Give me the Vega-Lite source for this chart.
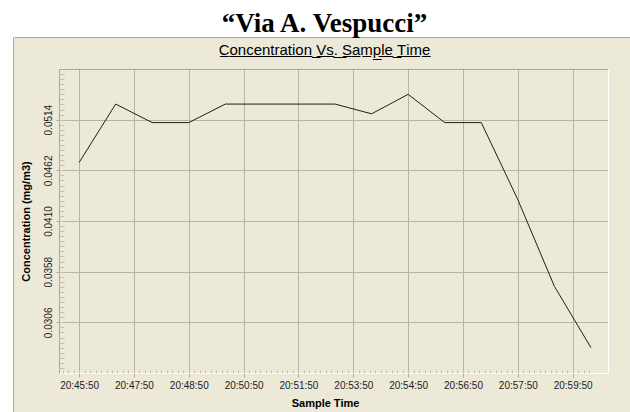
{
  "$schema": "https://vega.github.io/schema/vega-lite/v6.json",
  "background": "#ECE9D8",
  "padding": 0,
  "spacing": 0,
  "config": {"view": {"stroke": null}},
  "hconcat": [
    {
      "spacing": 0,
      "vconcat": [
        {"width": 14, "height": 37, "data": {"values": []}, "mark": "rect", "encoding": {}, "view": {"fill": "white", "stroke": null}},
        {"width": 13, "height": 375, "data": {"values": []}, "mark": "rect",
         "encoding": {"y": {"field": "v", "type": "quantitative", "scale": {"domain": [0, 1]},
           "axis": {"orient": "right", "domainColor": "#ACA899", "ticks": false, "labels": false, "grid": false, "title": null}}},
         "view": {"fill": "white", "stroke": null}}
      ]
    },
    {
      "spacing": 6,
      "vconcat": [
        {
          "width": 617, "height": 37,
          "data": {"values": []},
          "mark": "rect",
          "encoding": {"x": {"field": "v", "type": "quantitative", "scale": {"domain": [0, 1]},
            "axis": {"orient": "bottom", "domainColor": "#ACA899", "ticks": false, "labels": false, "grid": false,
              "title": "\u201cVia A. Vespucci\u201d", "titleFont": "Liberation Serif", "titleFontSize": 27, "titleFontWeight": "bold", "titleColor": "#000000",
              "titleX": 310, "titleY": -6, "titleAlign": "center", "titleBaseline": "alphabetic", "titleAnchor": null}}},
          "view": {"fill": "white", "stroke": null}
        },
        {
          "spacing": 0,
          "hconcat": [
            {"width": 5, "height": 10, "data": {"values": []}, "mark": "rect", "encoding": {}},
            {
              "width": 549,
              "height": 304,
              "data": {"values": [
                {"time": "2000-01-01T20:45:50Z", "conc": 0.0470},
                {"time": "2000-01-01T20:46:50Z", "conc": 0.0530},
                {"time": "2000-01-01T20:47:50Z", "conc": 0.0511},
                {"time": "2000-01-01T20:48:50Z", "conc": 0.0511},
                {"time": "2000-01-01T20:49:50Z", "conc": 0.0530},
                {"time": "2000-01-01T20:50:50Z", "conc": 0.0530},
                {"time": "2000-01-01T20:51:50Z", "conc": 0.0530},
                {"time": "2000-01-01T20:52:50Z", "conc": 0.0530},
                {"time": "2000-01-01T20:53:50Z", "conc": 0.0520},
                {"time": "2000-01-01T20:54:50Z", "conc": 0.0540},
                {"time": "2000-01-01T20:55:50Z", "conc": 0.0511},
                {"time": "2000-01-01T20:56:50Z", "conc": 0.0511},
                {"time": "2000-01-01T20:57:50Z", "conc": 0.0432},
                {"time": "2000-01-01T20:58:50Z", "conc": 0.0343},
                {"time": "2000-01-01T20:59:50Z", "conc": 0.0280}
              ]},
              "title": {"text": "C\u0332o\u0332n\u0332c\u0332e\u0332n\u0332t\u0332r\u0332a\u0332t\u0332i\u0332o\u0332n\u0332 \u0332V\u0332s\u0332.\u0332 \u0332S\u0332a\u0332m\u0332p\u0332l\u0332e\u0332 \u0332T\u0332i\u0332m\u0332e\u0332", "font": "Liberation Sans", "fontSize": 15, "fontWeight": "normal", "color": "#000000", "anchor": "middle", "frame": "group", "offset": 11, "dx": -9},
              "layer": [
                {
                  "mark": {"type": "line", "color": "#1E1E1E", "strokeWidth": 1},
                  "encoding": {
                    "x": {"field": "time", "type": "temporal",
                      "scale": {"type": "utc", "domain": [946759517000, 946760418000]},
                      "axis": {"orient": "bottom",
                        "values": [946759550000, 946759640000, 946759730000, 946759820000, 946759910000, 946760000000, 946760090000, 946760180000, 946760270000, 946760360000],
                        "labelExpr": "utcFormat(datum.value, '%H:%M') + ':50'",
                        "grid": true, "gridColor": "#B8B4A5", "gridWidth": 1,
                        "domainColor": "#FFFFFF", "domainWidth": 1,
                        "tickColor": "#ACA899", "tickSize": 4,
                        "labelFont": "Liberation Sans", "labelFontSize": 10, "labelColor": "#222222", "labelPadding": 3,
                        "labelFlush": false, "labelOverlap": false,
                        "title": "Sample Time", "titleFont": "Liberation Sans", "titleFontSize": 11, "titleFontWeight": "bold", "titleColor": "#000000", "titlePadding": 7, "titleX": 266}},
                    "y": {"field": "conc", "type": "quantitative",
                      "scale": {"domain": [0.0254, 0.0566], "zero": false, "nice": false},
                      "axis": {"orient": "left",
                        "values": [0.0306, 0.0358, 0.0410, 0.0462, 0.0514],
                        "format": ".4f", "labelAngle": -90,
                        "grid": true, "gridColor": "#B8B4A5", "gridWidth": 1,
                        "domainColor": "#ACA899", "domainWidth": 1,
                        "tickColor": "#ACA899", "tickSize": 3,
                        "labelFont": "Liberation Sans", "labelFontSize": 10, "labelColor": "#222222", "labelPadding": 3,
                        "labelFlush": false, "labelOverlap": false,
                        "title": "Concentration (mg/m3)", "titleFont": "Liberation Sans", "titleFontSize": 11, "titleFontWeight": "bold", "titleColor": "#000000", "titlePadding": 12}}
                  }
                },
                {
                  "mark": {"type": "line", "strokeOpacity": 0},
                  "encoding": {
                    "x": {"field": "time", "type": "temporal",
                      "scale": {"type": "utc", "domain": [946759517000, 946760418000]},
                      "axis": {"orient": "bottom", "offset": -3, "tickSize": 3, "tickColor": "#C4C0B2",
                        "values": [946759523000,946759532000,946759541000,946759550000,946759559000,946759568000,946759577000,946759586000,946759595000,946759604000,946759613000,946759622000,946759631000,946759640000,946759649000,946759658000,946759667000,946759676000,946759685000,946759694000,946759703000,946759712000,946759721000,946759730000,946759739000,946759748000,946759757000,946759766000,946759775000,946759784000,946759793000,946759802000,946759811000,946759820000,946759829000,946759838000,946759847000,946759856000,946759865000,946759874000,946759883000,946759892000,946759901000,946759910000,946759919000,946759928000,946759937000,946759946000,946759955000,946759964000,946759973000,946759982000,946759991000,946760000000,946760009000,946760018000,946760027000,946760036000,946760045000,946760054000,946760063000,946760072000,946760081000,946760090000,946760099000,946760108000,946760117000,946760126000,946760135000,946760144000,946760153000,946760162000,946760171000,946760180000,946760189000,946760198000,946760207000,946760216000,946760225000,946760234000,946760243000,946760252000,946760261000,946760270000,946760279000,946760288000,946760297000,946760306000,946760315000,946760324000,946760333000,946760342000,946760351000,946760360000,946760369000,946760378000,946760387000],
                        "labels": false, "domain": false, "grid": false, "title": null}},
                    "y": {"field": "conc", "type": "quantitative",
                      "scale": {"domain": [0.0254, 0.0566], "zero": false, "nice": false},
                      "axis": {"orient": "left", "offset": -5, "tickSize": 5, "tickColor": "#C4C0B2",
                        "values": [0.02592,0.02644,0.02696,0.02748,0.028,0.02852,0.02904,0.02956,0.03008,0.0306,0.03112,0.03164,0.03216,0.03268,0.0332,0.03372,0.03424,0.03476,0.03528,0.0358,0.03632,0.03684,0.03736,0.03788,0.0384,0.03892,0.03944,0.03996,0.04048,0.041,0.04152,0.04204,0.04256,0.04308,0.0436,0.04412,0.04464,0.04516,0.04568,0.0462,0.04672,0.04724,0.04776,0.04828,0.0488,0.04932,0.04984,0.05036,0.05088,0.0514,0.05192,0.05244,0.05296,0.05348,0.054,0.05452,0.05504,0.05556,0.05608],
                        "labels": false, "domain": false, "grid": false, "title": null}}
                  }
                },
                {
                  "mark": {"type": "line", "strokeOpacity": 0},
                  "encoding": {
                    "x": {"field": "time", "type": "temporal",
                      "scale": {"type": "utc", "domain": [946759517000, 946760418000]},
                      "axis": {"orient": "top", "domainColor": "#ACA899", "ticks": false, "labels": false, "grid": false, "title": null}},
                    "y": {"field": "conc", "type": "quantitative",
                      "scale": {"domain": [0.0254, 0.0566], "zero": false, "nice": false},
                      "axis": {"orient": "right", "domainColor": "#FFFFFF", "ticks": false, "labels": false, "grid": false, "title": null}}
                  }
                }
              ],
              "resolve": {"axis": {"x": "independent", "y": "independent"}}
            }
          ]
        }
      ]
    }
  ]
}
